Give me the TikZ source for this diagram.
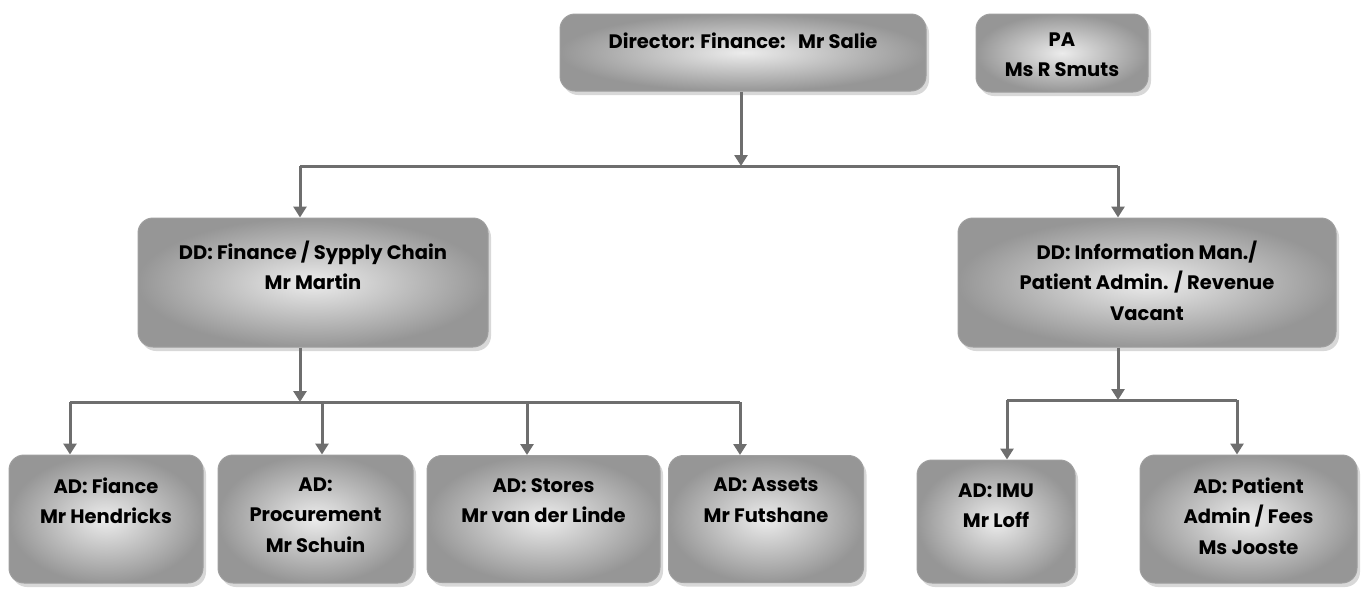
\documentclass[tikz,border=0pt]{standalone}
\usepackage{fontspec}
\setmainfont{Poppins}
\usetikzlibrary{arrows.meta,shadows}
\definecolor{linegray}{HTML}{6E6E6E}
\tikzset{
  orgbox/.style={draw=gray!75, line width=1pt, rounded corners=15pt,
    inner color=gray!15, outer color=gray!82,
    drop shadow={shadow xshift=3pt, shadow yshift=-4pt, fill=gray!60, opacity=0.5}},
  boxtext/.style={anchor=north, align=center, font=\fontsize{19.5}{30.5}\selectfont\bfseries, text=black, inner sep=0pt},
  conn/.style={draw=linegray, line width=3pt},
  arr/.style={conn, -{Triangle[width=13pt,length=11pt]}}
}
\newcommand{\orgnode}[7]{% name, cx, cy, w, h, text, text yshift
  \node[orgbox, minimum width=#4pt, minimum height=#5pt] (#1) at (#2pt,-#3pt) {};
  \node[boxtext] (#1t) at ([yshift=-#7pt]#1.north) {#6};
}
\begin{document}
\begin{tikzpicture}
\useasboundingbox (0,0) rectangle (1362pt,-590pt);
% boxes
\orgnode{dir}{743}{52.5}{366}{77}{Director: Finance:~~~Mr Salie}{19}
\orgnode{pa}{1062}{53}{172}{78}{PA\\Ms R Smuts}{19}
\orgnode{ddf}{313}{282.5}{350}{129}{DD: Finance / Sypply Chain\\Mr Martin}{23}
\orgnode{ddi}{1147}{282.5}{378}{129}{DD: Information Man./\\Patient Admin. / Revenue\\Vacant}{23}
\orgnode{adf}{106}{519}{194}{128}{AD: Fiance\\Mr Hendricks}{23}
\orgnode{adp}{315.5}{519}{195}{128}{AD:\\Procurement\\Mr Schuin}{23}
\orgnode{ads}{543.5}{519}{233}{127}{AD: Stores\\Mr van der Linde}{23}
\orgnode{ada}{766}{519}{195}{127}{AD: Assets\\Mr Futshane}{23}
\orgnode{imu}{996}{521.5}{158}{123}{AD: IMU\\Mr Loff}{24}
\orgnode{apf}{1248.5}{519}{217}{128}{AD: Patient\\Admin / Fees\\Ms Jooste}{23}
% junction coordinates
\coordinate (t1) at (741pt,-166pt);
\coordinate (tl) at (300pt,-166pt);
\coordinate (tr) at (1118pt,-166pt);
\coordinate (l1) at (300pt,-402pt);
\coordinate (la) at (70pt,-402pt);
\coordinate (lb) at (322pt,-402pt);
\coordinate (lc) at (527pt,-402pt);
\coordinate (ld) at (740pt,-402pt);
\coordinate (r1) at (1118pt,-400pt);
\coordinate (ra) at (1007pt,-400pt);
\coordinate (rb) at (1237pt,-400pt);
% connectors
\draw[arr] (dir.south -| t1) -- (t1);
\draw[conn] (tl) -- (tr);
\draw[arr] (tl) -- (tl |- ddf.north);
\draw[arr] (tr) -- (tr |- ddi.north);
\draw[arr] (ddf.south -| l1) -- (l1);
\draw[conn] (la) -- (ld);
\draw[arr] (la) -- (la |- adf.north);
\draw[arr] (lb) -- (lb |- adp.north);
\draw[arr] (lc) -- (lc |- ads.north);
\draw[arr] (ld) -- (ld |- ada.north);
\draw[arr] (ddi.south -| r1) -- (r1);
\draw[conn] (ra) -- (rb);
\draw[arr] (ra) -- (ra |- imu.north);
\draw[arr] (rb) -- (rb |- apf.north);
\end{tikzpicture}
\end{document}
